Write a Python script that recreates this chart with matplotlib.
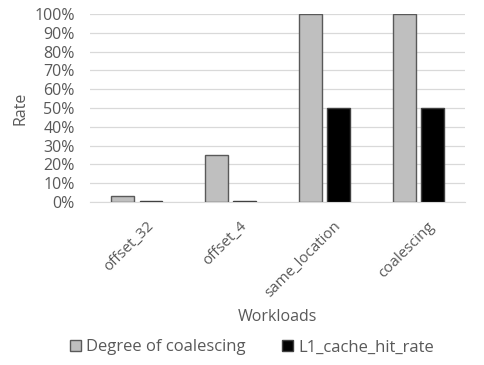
import numpy as np
import matplotlib
matplotlib.use('Agg')
import matplotlib.pyplot as plt
import matplotlib.transforms as mtransforms
from matplotlib.ticker import PercentFormatter

workloads = ['offset_32', 'offset_4', 'same_location', 'coalescing']
coalescing_deg = [3, 25, 100, 100]
l1_hit_rate = [0.3, 0.7, 50, 50]

plt.rcParams['font.family'] = ['Open Sans', 'DejaVu Sans']
txt = '#595959'
fs = 11.5

fig = plt.figure(figsize=(4.85, 3.65), dpi=100)
ax = fig.add_axes([0.1856, 0.4466, 0.7732, 0.515])

x = np.arange(len(workloads))
w = 0.245
ax.bar(x - w / 2 - 0.028, coalescing_deg, w, color='#bfbfbf', edgecolor='#595959',
       linewidth=1.0, label='Degree of coalescing', zorder=3)
ax.bar(x + w / 2 + 0.028, l1_hit_rate, w, color='black', edgecolor='#404040',
       linewidth=1.0, label='L1_cache_hit_rate', zorder=3)

ax.set_xlim(-0.5, 3.5)
ax.set_ylim(0, 100)
ax.set_yticks(np.arange(0, 101, 10))
ax.yaxis.set_major_formatter(PercentFormatter(decimals=0))
ax.grid(axis='y', color='#d9d9d9', linewidth=0.9, zorder=0)
for s in ['top', 'right', 'left']:
    ax.spines[s].set_visible(False)
ax.spines['bottom'].set_color('#d9d9d9')
ax.tick_params(length=0, labelsize=fs, colors=txt)
ax.tick_params(axis='y', pad=11)
ax.tick_params(axis='x', pad=12, labelsize=10.8)
ax.set_xticks(x)
ax.set_xticklabels(workloads, rotation=45, ha='right', rotation_mode='anchor')
shift = mtransforms.ScaledTranslation(9 / 100, 0, fig.dpi_scale_trans)
for lbl in ax.get_xticklabels():
    lbl.set_transform(lbl.get_transform() + shift)
ax.set_ylabel('Rate', fontsize=fs, color=txt, labelpad=4)
ax.set_xlabel('Workloads', fontsize=fs, color=txt, labelpad=6)

fig.legend(loc='lower center', bbox_to_anchor=(0.52, -0.015), ncol=2, frameon=False,
           fontsize=12, labelcolor=txt, handlelength=0.65, handleheight=0.65,
           handletextpad=0.3, columnspacing=2.2)

fig.savefig('out.png', dpi=100)
